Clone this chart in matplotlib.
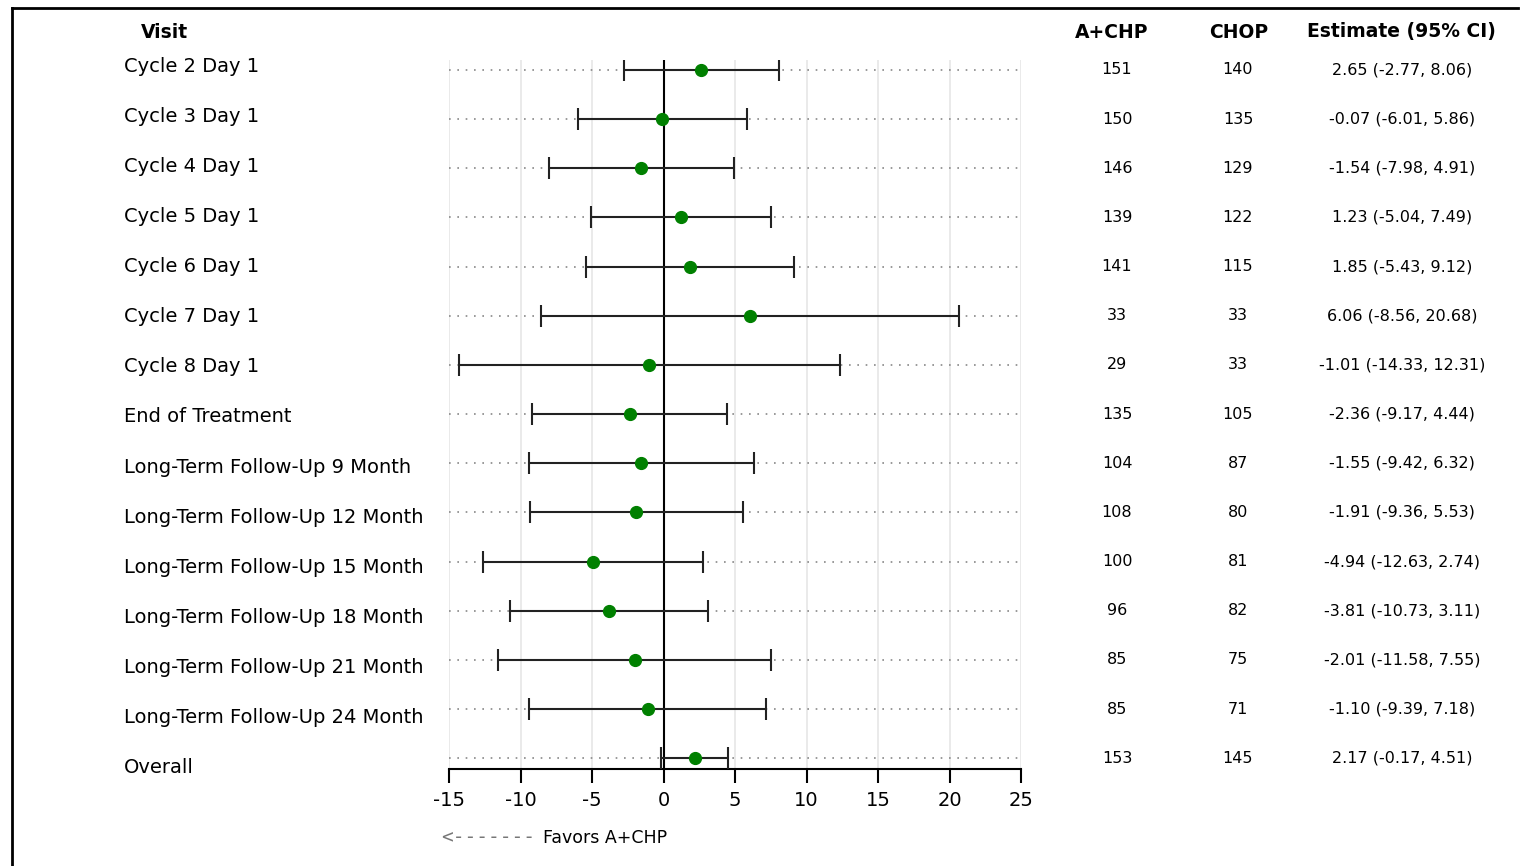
import matplotlib.pyplot as plt
from matplotlib.lines import Line2D

visits = ['Cycle 2 Day 1', 'Cycle 3 Day 1', 'Cycle 4 Day 1', 'Cycle 5 Day 1',
          'Cycle 6 Day 1', 'Cycle 7 Day 1', 'Cycle 8 Day 1', 'End of Treatment',
          'Long-Term Follow-Up 9 Month', 'Long-Term Follow-Up 12 Month',
          'Long-Term Follow-Up 15 Month', 'Long-Term Follow-Up 18 Month',
          'Long-Term Follow-Up 21 Month', 'Long-Term Follow-Up 24 Month', 'Overall']
n_achp = [151, 150, 146, 139, 141, 33, 29, 135, 104, 108, 100, 96, 85, 85, 153]
n_chop = [140, 135, 129, 122, 115, 33, 33, 105, 87, 80, 81, 82, 75, 71, 145]
estimate = [2.65, -0.07, -1.54, 1.23, 1.85, 6.06, -1.01, -2.36, -1.55, -1.91, -4.94, -3.81, -2.01, -1.10, 2.17]
lower = [-2.77, -6.01, -7.98, -5.04, -5.43, -8.56, -14.33, -9.17, -9.42, -9.36, -12.63, -10.73, -11.58, -9.39, -0.17]
upper = [8.06, 5.86, 4.91, 7.49, 9.12, 20.68, 12.31, 4.44, 6.32, 5.53, 2.74, 3.11, 7.55, 7.18, 4.51]
xticks = [-15, -10, -5, 0, 5, 10, 15, 20, 25]

W, H = 1526, 866
fig = plt.figure(figsize=(W / 100, H / 100), dpi=100)

# axes area in pixels: x 449..1021, y 60..769
ax = fig.add_axes([449 / W, 1 - 769 / H, (1021 - 449) / W, (769 - 60) / H])
rows = list(range(len(visits)))
ax.set_xlim(-15, 25)
ax.set_ylim(14.22, -0.2)

for x in xticks:
    ax.axvline(x, color='#e6e6e6', lw=1.2, zorder=0)
for r in rows:
    ax.plot([-15, 25], [r, r], color='#888888', lw=1.2, ls=(0, (1, 4)), zorder=1)
ax.axvline(0, color='black', lw=1.5, zorder=2)

xerr = [[e - l for e, l in zip(estimate, lower)], [u - e for e, u in zip(estimate, upper)]]
ax.errorbar(estimate, rows, xerr=xerr, fmt='none', ecolor='#222222', elinewidth=1.5,
            capsize=8, capthick=1.5, zorder=3)
ax.plot(estimate, rows, 'o', color='#008000', markersize=8.5, zorder=4)

ax.set_xticks(xticks)
ax.set_xticklabels([str(t) for t in xticks], fontsize=14)
ax.set_yticks([])
for s in ['left', 'right', 'top']:
    ax.spines[s].set_visible(False)
ax.spines['bottom'].set_linewidth(1.5)
ax.tick_params(axis='x', length=10, width=1.5, pad=6)

# table columns, placed with the same row scale as the axes
def fig_y(r):
    return fig.transFigure.inverted().transform(ax.transData.transform((0, r)))[1]

for i, v in enumerate(visits):
    # labels drift slightly downward relative to the rows in the original
    yl = 1 - (66 + i * 50.14) / H
    fig.text(124 / W, yl, v, fontsize=14, ha='left', va='center')
    fig.text(1117 / W, fig_y(i), str(n_achp[i]), fontsize=11.5, ha='center', va='center')
    fig.text(1238 / W, fig_y(i), str(n_chop[i]), fontsize=11.5, ha='center', va='center')
    est = '%.2f (%.2f, %.2f)' % (estimate[i], lower[i], upper[i])
    fig.text(1402 / W, fig_y(i), est, fontsize=11.5, ha='center', va='center')

hy = 1 - 32 / H
fig.text(141 / W, hy, 'Visit', fontsize=13.5, fontweight='bold', ha='left', va='center')
fig.text(1112 / W, hy, 'A+CHP', fontsize=13.5, fontweight='bold', ha='center', va='center')
fig.text(1239 / W, hy, 'CHOP', fontsize=13.5, fontweight='bold', ha='center', va='center')
fig.text(1401 / W, hy, 'Estimate (95% CI)', fontsize=13.5, fontweight='bold', ha='center', va='center')

fy = 1 - 838 / H
fig.text(441 / W, fy, '<-------', fontsize=14, family='DejaVu Sans Mono', color='#777777',
         ha='left', va='center')
fig.text(543 / W, fy, 'Favors A+CHP', fontsize=12.5, ha='left', va='center')

# border lines (left and top)
fig.add_artist(Line2D([12 / W, 12 / W], [0, 1 - 8 / H], color='black', lw=2, transform=fig.transFigure))
fig.add_artist(Line2D([12 / W, 1518 / W], [1 - 8 / H, 1 - 8 / H], color='black', lw=2, transform=fig.transFigure))

fig.savefig('out.png', dpi=100)
